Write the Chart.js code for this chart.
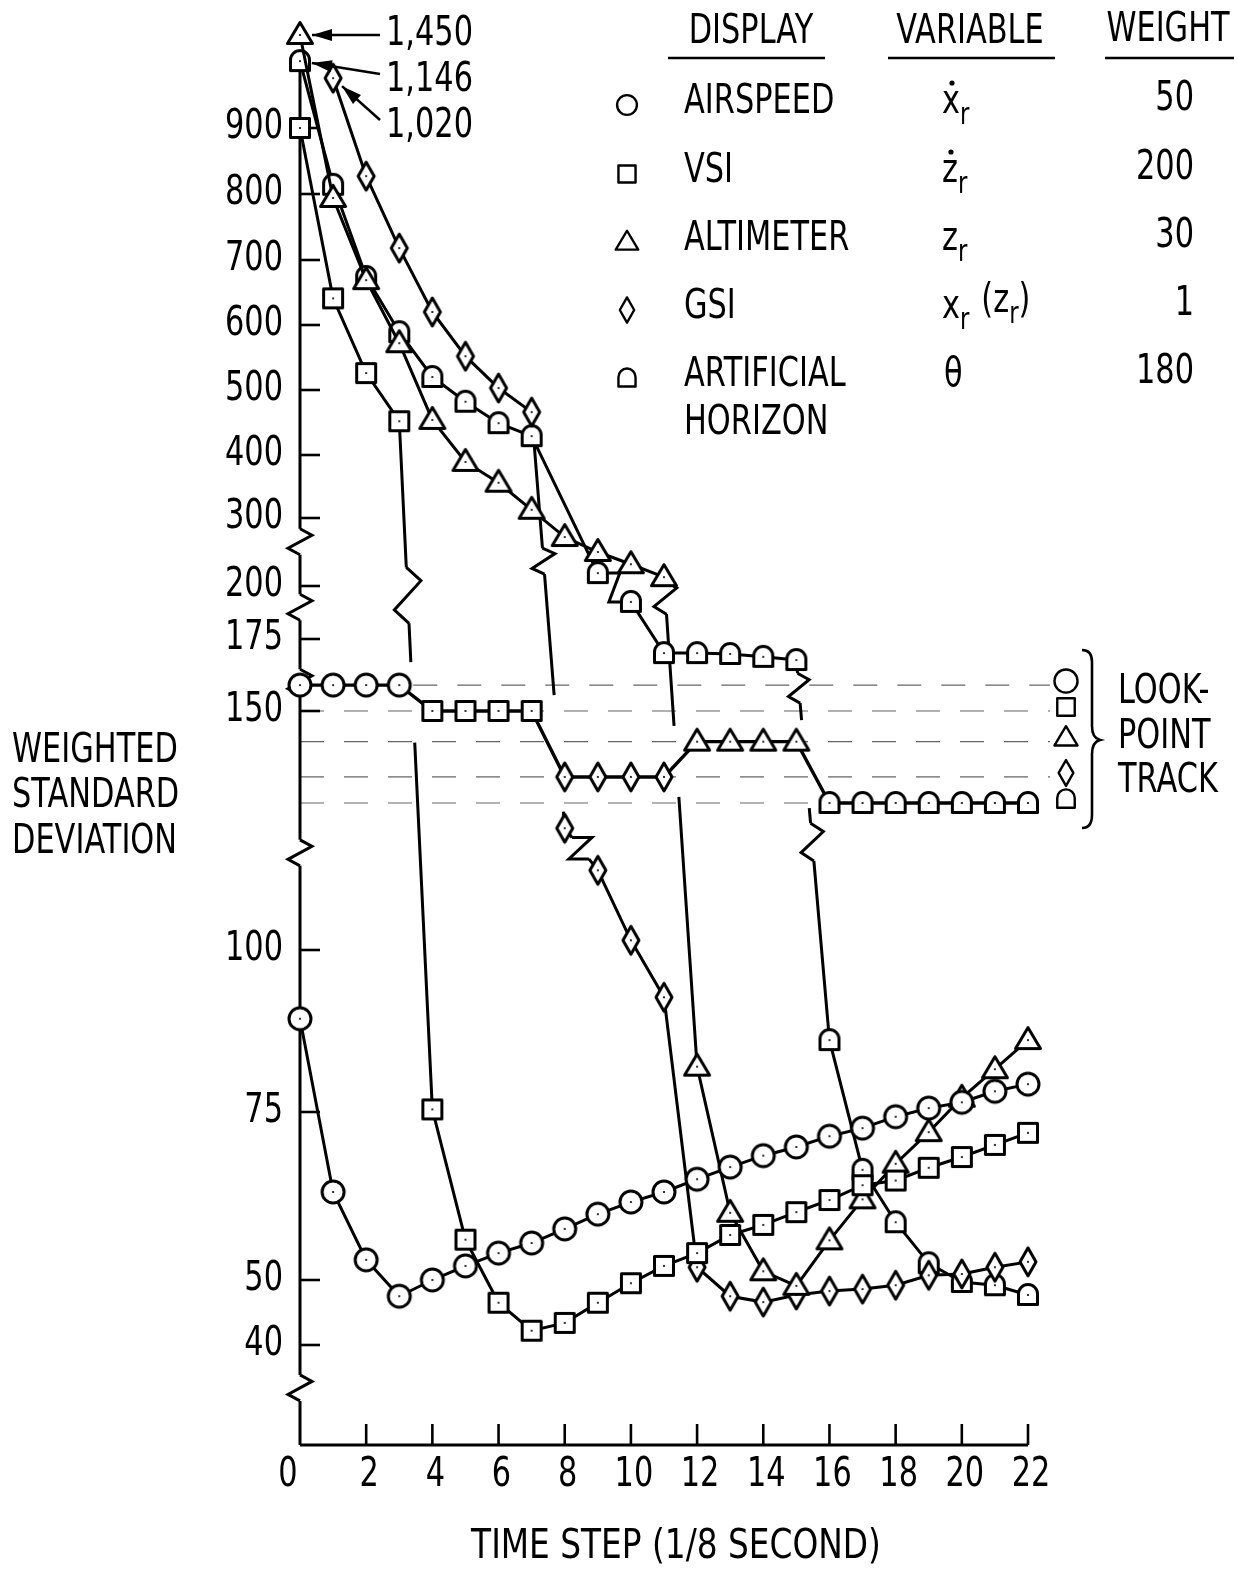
<!DOCTYPE html>
<html><head><meta charset="utf-8">
<script src="https://cdn.jsdelivr.net/npm/chart.js@4.4.1/dist/chart.umd.min.js"></script>
<style>html,body{margin:0;padding:0;background:#fff}canvas{display:block}</style>
</head><body>
<canvas id="c" width="1238" height="1569"></canvas>
<script>
// ---------------- DATA ----------------
const TIME_STEPS = [0,1,2,3,4,5,6,7,8,9,10,11,12,13,14,15,16,17,18,19,20,21,22];
const AIRSPEED = [89.4,63.1,53.0,47.5,50.0,52.1,54.0,55.5,57.6,59.8,61.6,63.1,65.0,66.8,68.5,69.8,71.4,72.6,74.3,75.6,76.5,78.2,79.3];
const VSI = [900,641,526,452,75.4,56.0,46.5,42.2,43.4,46.5,49.5,52.1,54.0,56.7,58.2,60.1,61.9,64.1,64.8,66.7,68.3,70.1,71.9];
const ALTIMETER = [1450,794,669,572,454,389,356,313,272,250,232,213,82.0,60.0,51.3,49.1,55.9,62.0,67.3,72.0,77.2,81.6,86.1];
const GSI = [null,1020,827,718,620,552,503,466,118.8,112.3,101.5,92.7,51.9,47.5,46.6,47.7,48.3,48.6,49.2,50.7,50.9,51.9,52.7];
const ARTIFICIAL_HORIZON = [1146,814,674,589,520,482,449,429,null,219,192.5,170.1,170.1,169.8,168.8,167.7,86.1,66.4,58.6,52.5,49.7,49.2,47.7];
const LOOK_POINT_TRACK = [159,159,159,159,150,150,150,150,128.5,128.5,128.5,128.5,140,140,140,140,120,120,120,120,120,120,120];
const LOOK_POINT_DISPLAY = ['circle','circle','circle','circle','square','square','square','square','diamond','diamond','diamond','diamond','triangle','triangle','triangle','triangle','dome','dome','dome','dome','dome','dome','dome'];
const Y_TICKS = [40,50,75,100,150,175,200,300,400,500,600,700,800,900];
const X_TICKS = [0,2,4,6,8,10,12,14,16,18,20,22];
const LEGEND_SHAPES = ['circle','square','triangle','diamond','dome'];
const LEGEND_NAMES = [['AIRSPEED'],['VSI'],['ALTIMETER'],['GSI'],['ARTIFICIAL','HORIZON']];
const LEGEND_WEIGHTS = ['50','200','30','1','180'];
const TRACK_ORDER = ['circle','square','triangle','diamond','dome'];
const OFFSCALE = [{key:'ALTIMETER', step:0}, {key:'ARTIFICIAL_HORIZON', step:0}, {key:'GSI', step:1}];

// ---------------- AXIS DEFINITION (broken, piecewise scale) ----------------
const AXIS_ANCHORS = [[40,1345],[50,1280],[75,1112],[100,950],[119,826.9],[120,803],[150,711],[175,639],[200,586],[300,518],[400,455],[500,390],[600,325],[700,260],[800,194],[900,128]];
function toU(v){
  const A = AXIS_ANCHORS;
  if (v <= A[0][0]) return A[0][1] + (A[0][0]-v)*6.5;
  if (v >= 900) return 128 - 7.0*Math.pow(v-900, 0.41);
  for (let i=1;i<A.length;i++){
    if (v <= A[i][0]) { const [v0,u0]=A[i-1],[v1,u1]=A[i]; return u0 + (v-v0)/(v1-v0)*(u1-u0); }
  }
}
const AXIS_BREAKS = [265,190,160,115,33.4];

// segments drawn with gaps / zigzag breaks (index = starting data index)
const BREAK_MARKS = {
  VSI: {3: [{type:'zig', f:0.253, h:56, w:14}, {type:'gap', f0:0.35, f1:0.467}]},
  ALTIMETER: {11: [{type:'zig', f:0.041, h:34, w:12}, {type:'gap', f0:0.304, f1:0.449}]},
  GSI: {7: [{type:'zig', f:0.358, h:26, w:12}, {type:'gap', f0:0.68, f1:0.96}], 8: [{type:'Z', f0:0.22, f1:0.73, w:20}]},
  ARTIFICIAL_HORIZON: {9: [{type:'Z', f0:0, f1:1, w:22}], 15: [{type:'zig', f:0.074, h:30, w:11},{type:'gap', f0:0.158, f1:0.39},{type:'zig', f:0.479, h:38, w:12}]}
};

// ---------------- STYLE HELPERS ----------------
const FONT_FAMILY = '"DejaVu Sans", "Liberation Sans", sans-serif';
const SX = 0.76;
function txt(ctx, s, x, y, o={}){
  const size=o.size||40, align=o.align||'left', sx=o.sx||SX;
  ctx.save(); ctx.translate(x,y); ctx.scale(sx,1);
  ctx.font = size+'px '+FONT_FAMILY; ctx.textAlign=align; ctx.textBaseline=o.baseline||'middle'; ctx.fillStyle='#000';
  ctx.fillText(s,0,0); ctx.restore();
}
function txtW(ctx, s, size){ ctx.save(); ctx.font=size+'px '+FONT_FAMILY; const w=ctx.measureText(s).width*SX; ctx.restore(); return w; }
function shapePath(ctx, type, s){
  ctx.beginPath();
  switch(type){
    case 'circle': ctx.arc(0,0,11*s,0,2*Math.PI); break;
    case 'square': ctx.rect(-9.5*s,-9.5*s,19*s,19*s); break;
    case 'triangle': ctx.moveTo(0,-12.5*s); ctx.lineTo(12.5*s,8.5*s); ctx.lineTo(-12.5*s,8.5*s); ctx.closePath(); break;
    case 'diamond': ctx.moveTo(0,-14*s); ctx.lineTo(8*s,0); ctx.lineTo(0,14*s); ctx.lineTo(-8*s,0); ctx.closePath(); break;
    case 'dome': ctx.moveTo(-9.5*s,9.5*s); ctx.lineTo(-9.5*s,-1*s); ctx.arc(0,-1*s,9.5*s,Math.PI,0); ctx.lineTo(9.5*s,9.5*s); ctx.closePath(); break;
  }
}
function makeMarker(type){
  const c=document.createElement('canvas'); c.width=34; c.height=34;
  const g=c.getContext('2d'); g.translate(17,17);
  shapePath(g,type,1); g.fillStyle='#fff'; g.fill(); g.lineWidth=3; g.strokeStyle='#000'; g.lineJoin='round'; g.stroke();
  g.beginPath(); g.arc(0,0,1.1,0,2*Math.PI); g.fillStyle='#000'; g.fill();
  return c;
}
const MARKERS = {}; ['circle','square','triangle','diamond','dome'].forEach(k=>MARKERS[k]=makeMarker(k));
function drawSymbol(ctx,type,x,y,s,lw){
  ctx.save(); ctx.translate(x,y); shapePath(ctx,type,s); ctx.fillStyle='#fff'; ctx.fill(); ctx.lineWidth=lw||2.5; ctx.strokeStyle='#000'; ctx.lineJoin='round'; ctx.stroke(); ctx.restore();
}

function drawBroken(ctx, A, B, cuts){
  const dx=B.x-A.x, dy=B.y-A.y, L=Math.hypot(dx,dy);
  const d={x:dx/L,y:dy/L}, n={x:d.y,y:-d.x};
  const P=f=>({x:A.x+dx*f, y:A.y+dy*f});
  const items = cuts.map(c=>{
    if (c.type==='zig') return {type:'zig', f0:c.f-c.h/2/L, f1:c.f+c.h/2/L, h:c.h, w:c.w};
    return Object.assign({}, c);
  }).sort((a,b)=>a.f0-b.f0);
  ctx.beginPath();
  let cur=0;
  for (const it of items){
    if (it.f0>cur){ const p=P(cur), q=P(it.f0); ctx.moveTo(p.x,p.y); ctx.lineTo(q.x,q.y); }
    if (it.type==='zig'){
      const q0=P(it.f0), q3=P(it.f1);
      const q1={x:q0.x+d.x*0.25*it.h+n.x*it.w, y:q0.y+d.y*0.25*it.h+n.y*it.w};
      const q2={x:q0.x+d.x*0.75*it.h-n.x*it.w, y:q0.y+d.y*0.75*it.h-n.y*it.w};
      ctx.moveTo(q0.x,q0.y); ctx.lineTo(q1.x,q1.y); ctx.lineTo(q2.x,q2.y); ctx.lineTo(q3.x,q3.y);
    } else if (it.type==='Z'){
      const q0=P(it.f0), q3=P(it.f1);
      ctx.moveTo(q0.x,q0.y); ctx.lineTo(q0.x+it.w,q0.y); ctx.lineTo(q3.x-it.w,q3.y); ctx.lineTo(q3.x,q3.y);
    }
    cur=it.f1;
  }
  if (cur<1){ const p=P(cur), q=P(1); ctx.moveTo(p.x,p.y); ctx.lineTo(q.x,q.y); }
  ctx.stroke();
}

function series(values){ return TIME_STEPS.map((t,i)=>({x:t, y: values[i]==null ? null : toU(values[i])})); }

function mkDataset(key, values, style, extra){
  const spec = BREAK_MARKS[key];
  return Object.assign({
    key, raw: values, data: series(values), pointStyle: style,
    borderColor:'#000', borderWidth:3, pointRadius:11, pointHoverRadius:11,
    fill:false, tension:0, clip:false, spanGaps:false,
    segment: { borderColor: c => (spec && spec[c.p0DataIndex]) ? 'rgba(0,0,0,0)' : undefined }
  }, extra||{});
}

const decor = {
  id:'decor',
  beforeDatasetsDraw(chart){
    const ctx=chart.ctx, xs=chart.scales.x, ys=chart.scales.y;
    const Y=v=>ys.getPixelForValue(toU(v)), X=t=>xs.getPixelForValue(t);
    const left=X(0), bottom=ys.getPixelForValue(ys.max);
    ctx.save();
    ctx.strokeStyle='#000'; ctx.lineCap='butt';
    // dashed look-point guide lines
    ctx.lineWidth=1.2; ctx.strokeStyle='#666'; ctx.setLineDash([24,20]);
    TRACK_ORDER.forEach(k=>{
      const lvl = LOOK_POINT_TRACK[LOOK_POINT_DISPLAY.indexOf(k)];
      const y=Y(lvl);
      let x0=left, x1=1050;
      if (k==='circle') x0 = X(LOOK_POINT_DISPLAY.lastIndexOf('circle'))+14;
      if (k==='dome') x1 = X(LOOK_POINT_DISPLAY.indexOf('dome'))-12;
      ctx.beginPath(); ctx.moveTo(x0,y); ctx.lineTo(x1,y); ctx.stroke();
    });
    ctx.setLineDash([]);
    // y axis with zigzag breaks
    ctx.strokeStyle='#000'; ctx.lineWidth=3;
    const top=Y(1146);
    const A={x:left,y:top}, B={x:left,y:bottom}, L=bottom-top;
    drawBroken(ctx,A,B,AXIS_BREAKS.map(v=>({type:'zig', f:(Y(v)-top)/L, h:26, w:12})));
    // x axis
    ctx.beginPath(); ctx.moveTo(left,bottom); ctx.lineTo(X(22),bottom); ctx.stroke();
    // tick marks
    ctx.lineWidth=2.6;
    ys.ticks.forEach(t=>{ const y=ys.getPixelForValue(t.value); ctx.beginPath(); ctx.moveTo(left,y); ctx.lineTo(left+20,y); ctx.stroke(); });
    xs.ticks.forEach(t=>{ if (t.value===0) return; const x=xs.getPixelForValue(t.value); ctx.beginPath(); ctx.moveTo(x,bottom); ctx.lineTo(x,bottom-21); ctx.stroke(); });
    // broken connecting segments
    ctx.lineWidth=3; ctx.lineJoin='miter';
    chart.data.datasets.forEach((ds,di)=>{
      const spec=BREAK_MARKS[ds.key]; if(!spec) return;
      const meta=chart.getDatasetMeta(di);
      for (const k in spec){ const a=meta.data[+k], b=meta.data[+k+1]; drawBroken(ctx,{x:a.x,y:a.y},{x:b.x,y:b.y},spec[k]); }
    });
    ctx.restore();
  },
  afterDatasetsDraw(chart){
    const ctx=chart.ctx, xs=chart.scales.x, ys=chart.scales.y;
    const Y=v=>ys.getPixelForValue(toU(v)), X=t=>xs.getPixelForValue(t);
    const left=X(0), bottom=ys.getPixelForValue(ys.max);
    ctx.save();
    // tick labels
    ys.ticks.forEach((t,i)=> txt(ctx, String(Y_TICKS[i]), left-17, ys.getPixelForValue(t.value), {align:'right'}));
    xs.ticks.forEach(t=> txt(ctx, String(t.value), xs.getPixelForValue(t.value)-(t.value===0?12:0)+(t.value>0?3:0), bottom+31, {align:'center'}));
    // axis titles
    txt(ctx,'WEIGHTED',12,752); txt(ctx,'STANDARD',12,797); txt(ctx,'DEVIATION',12,843);
    txt(ctx,'TIME STEP (1/8 SECOND)',676,1548,{align:'center', sx:0.82});
    // off-scale annotations with arrows
    const labelY=[35,81,127];
    OFFSCALE.forEach((o,i)=>{
      const di=chart.data.datasets.findIndex(d=>d.key===o.key);
      const p=chart.getDatasetMeta(di).data[o.step];
      const val=chart.data.datasets[di].raw[o.step];
      const label=val.toLocaleString('en-US');
      const tx=386, ty=labelY[i];
      txt(ctx,label,tx,ty);
      const sx=tx-6, sy=ty-(i===0?0:7);
      const ang=Math.atan2(p.y-sy,p.x-sx), dist=Math.hypot(p.x-sx,p.y-sy);
      const tip={x:sx+Math.cos(ang)*(dist-12), y:sy+Math.sin(ang)*(dist-12)};
      ctx.strokeStyle='#000'; ctx.lineWidth=2.6;
      ctx.beginPath(); ctx.moveTo(sx,sy); ctx.lineTo(tip.x,tip.y); ctx.stroke();
      ctx.beginPath(); ctx.moveTo(tip.x,tip.y);
      const bx=tip.x-Math.cos(ang)*20, by=tip.y-Math.sin(ang)*20;
      ctx.lineTo(bx+Math.sin(ang)*6, by-Math.cos(ang)*6); ctx.lineTo(bx-Math.sin(ang)*6, by+Math.cos(ang)*6); ctx.closePath();
      ctx.fillStyle='#000'; ctx.fill();
    });
    // legend table
    txt(ctx,'DISPLAY',751,33,{align:'center'}); txt(ctx,'VARIABLE',970,33,{align:'center'}); txt(ctx,'WEIGHT',1168,31,{align:'center'});
    ctx.lineWidth=2.6; ctx.strokeStyle='#000';
    [[668,825],[888,1055],[1105,1234]].forEach(([a,b])=>{ ctx.beginPath(); ctx.moveTo(a,58); ctx.lineTo(b,58); ctx.stroke(); });
    const rowY=[103,172,240,308,376];
    LEGEND_SHAPES.forEach((s,i)=>{
      drawSymbol(ctx,s,627,rowY[i]+2,0.9,2.4);
      LEGEND_NAMES[i].forEach((nm,j)=>txt(ctx,nm,684,rowY[i]+j*48));
      txt(ctx,LEGEND_WEIGHTS[i],1194,rowY[i]-3,{align:'right'});
    });
    // variables
    const mathRow=(parts,x,base)=>{
      let cx=x;
      parts.forEach(p=>{
        const size=p.sub?30:40, b=base+(p.sub?11:0)+(p.dy||0);
        txt(ctx,p.t,cx,b,{size,baseline:'alphabetic'});
        const w=txtW(ctx,p.t,size);
        if (p.dot){ ctx.beginPath(); ctx.arc(cx+w/2+1,b-30,2.6,0,2*Math.PI); ctx.fillStyle='#000'; ctx.fill(); }
        cx+=w+(p.gap||0);
      });
    };
    mathRow([{t:'x',dot:true},{t:'r',sub:true}],942,113);
    mathRow([{t:'z',dot:true},{t:'r',sub:true}],942,182);
    mathRow([{t:'z'},{t:'r',sub:true}],942,250);
    mathRow([{t:'x'},{t:'r',sub:true,gap:12},{t:'(',dy:-6},{t:'z',dy:-6},{t:'r',sub:true,dy:-6},{t:')',dy:-6}],942,318);
    txt(ctx,'\u03B8',944,376);
    // look-point legend
    TRACK_ORDER.forEach(k=>{
      const lvl=LOOK_POINT_TRACK[LOOK_POINT_DISPLAY.indexOf(k)];
      drawSymbol(ctx,k,1066,Y(lvl)-4,k==='circle'?1.05:0.92,2.4);
    });
    ctx.lineWidth=2.6; ctx.beginPath();
    ctx.moveTo(1082,650); ctx.quadraticCurveTo(1092,650,1092,662); ctx.lineTo(1092,726);
    ctx.quadraticCurveTo(1092,738,1100,740); ctx.quadraticCurveTo(1092,742,1092,754); ctx.lineTo(1092,815);
    ctx.quadraticCurveTo(1092,828,1082,828); ctx.stroke();
    txt(ctx,'LOOK-',1118,693); txt(ctx,'POINT',1118,738); txt(ctx,'TRACK',1118,782);
    ctx.restore();
  }
};

const datasets = [
  mkDataset('AIRSPEED', AIRSPEED, MARKERS.circle),
  mkDataset('VSI', VSI, MARKERS.square),
  mkDataset('ALTIMETER', ALTIMETER, MARKERS.triangle),
  mkDataset('GSI', GSI, MARKERS.diamond),
  mkDataset('ARTIFICIAL_HORIZON', ARTIFICIAL_HORIZON, MARKERS.dome, {spanGaps:true}),
  mkDataset('LOOK_POINT_TRACK', LOOK_POINT_TRACK, LOOK_POINT_DISPLAY.map(k=>MARKERS[k]), {borderWidth:3.4})
];

new Chart(document.getElementById('c'), {
  type:'line',
  data:{ datasets },
  options:{
    responsive:false, animation:false, devicePixelRatio:1,
    layout:{ padding:{ left:300, right:210, top:15, bottom:124 } },
    plugins:{ legend:{display:false}, tooltip:{enabled:false} },
    events:[],
    scales:{
      x:{ type:'linear', min:0, max:22, ticks:{ display:false, stepSize:2 }, grid:{display:false}, border:{display:false},
          afterBuildTicks: s => { s.ticks = X_TICKS.map(v=>({value:v})); }, afterFit: s => { s.height=0; } },
      y:{ type:'linear', min:15, max:1445, reverse:true, ticks:{ display:false }, grid:{display:false}, border:{display:false},
          afterBuildTicks: s => { s.ticks = Y_TICKS.map(v=>({value:toU(v)})); }, afterFit: s => { s.width=0; } }
    }
  },
  plugins:[decor]
});
</script>
</body></html>
